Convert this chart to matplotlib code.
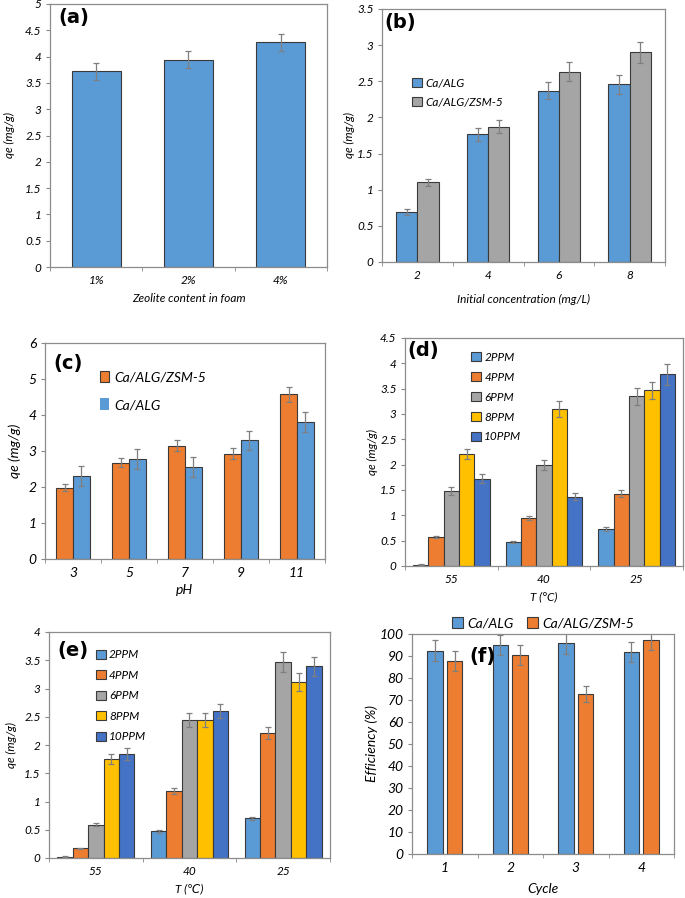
import numpy as np
import matplotlib
matplotlib.use('Agg')
import matplotlib.pyplot as plt
from matplotlib.ticker import MultipleLocator, FormatStrFormatter, FixedLocator
from matplotlib.patches import Patch

plt.rcParams['font.family'] = ['Lato', 'DejaVu Sans']

# ---- data ----
# (a)
zeolite = ['1%', '2%', '4%']
qe_a = [3.72, 3.94, 4.27]
err_a = [0.16, 0.16, 0.16]

# (b)
conc = ['2', '4', '6', '8']
qe_b_alg = [0.69, 1.77, 2.37, 2.46]
err_b_alg = [0.04, 0.09, 0.12, 0.13]
qe_b_zsm = [1.10, 1.87, 2.63, 2.90]
err_b_zsm = [0.05, 0.09, 0.13, 0.15]

# (c)
ph = ['3', '5', '7', '9', '11']
qe_c_zsm = [1.98, 2.68, 3.15, 2.93, 4.57]
err_c_zsm = [0.10, 0.13, 0.15, 0.15, 0.22]
qe_c_alg = [2.30, 2.78, 2.55, 3.30, 3.80]
err_c_alg = [0.27, 0.27, 0.27, 0.26, 0.27]

# (d) and (e)
temps = ['55', '40', '25']
ppm = ['2PPM', '4PPM', '6PPM', '8PPM', '10PPM']
qe_d = [[0.02, 0.47, 0.73],
        [0.57, 0.94, 1.43],
        [1.48, 2.00, 3.35],
        [2.21, 3.10, 3.47],
        [1.72, 1.37, 3.78]]
err_d = [[0.01, 0.02, 0.03],
         [0.02, 0.04, 0.07],
         [0.07, 0.10, 0.17],
         [0.10, 0.15, 0.17],
         [0.09, 0.07, 0.20]]
qe_e = [[0.02, 0.47, 0.70],
        [0.17, 1.19, 2.21],
        [0.59, 2.44, 3.47],
        [1.75, 2.44, 3.12],
        [1.84, 2.60, 3.39]]
err_e = [[0.01, 0.02, 0.03],
         [0.01, 0.05, 0.11],
         [0.03, 0.12, 0.17],
         [0.09, 0.12, 0.16],
         [0.10, 0.13, 0.17]]

# (f)
cycles = ['1', '2', '3', '4']
eff_alg = [92.5, 95.0, 95.8, 91.8]
err_f_alg = [4.6, 4.7, 4.8, 4.6]
eff_zsm = [87.8, 90.5, 72.8, 97.5]
err_f_zsm = [4.4, 4.5, 3.6, 4.9]

blue = '#5B9BD5'
orange = '#ED7D31'
gray = '#A5A5A5'
yellow = '#FFC000'
dblue = '#4472C4'
ppm_colors = [blue, orange, gray, yellow, dblue]
edge = '#3a3a3a'
ecol = '#7f7f7f'

W, H = 685, 898
fig = plt.figure(figsize=(W / 100, H / 100), dpi=100)


def add_ax(l, t, r, b):
    return fig.add_axes([l / W, 1 - b / H, (r - l) / W, (b - t) / H])


def style(ax, n, ymax, ystep, fs=8.5):
    ax.set_xlim(-0.5, n - 0.5)
    ax.set_ylim(0, ymax)
    ax.yaxis.set_major_locator(MultipleLocator(ystep))
    ax.yaxis.set_major_formatter(FormatStrFormatter('%g'))
    ax.set_xticks(range(n))
    ax.xaxis.set_minor_locator(FixedLocator(np.arange(-0.5, n, 1.0)))
    ax.tick_params(axis='x', which='major', length=0, labelsize=fs, pad=6)
    ax.tick_params(axis='x', which='minor', length=3, color='#888888')
    ax.tick_params(axis='y', length=3, color='#888888', labelsize=fs, pad=3)
    for lab in ax.get_xticklabels() + ax.get_yticklabels():
        lab.set_fontstyle('italic')
    for s in ax.spines.values():
        s.set_color('#8c8c8c')
        s.set_linewidth(0.9)


def ylab(ax, text, xpix, fs=8.5):
    # xpix: horizontal centre of the label, in figure pixels
    ax.set_ylabel(text, fontsize=fs, style='italic')
    bb = ax.get_position()
    x0 = bb.x0 * W
    w = bb.width * W
    ax.yaxis.set_label_coords((xpix + fs * 0.6 - x0) / w, 0.5)


ekw = dict(ecolor=ecol, capsize=2.5, elinewidth=0.9, capthick=0.9)

# (a)
ax = add_ax(50, 4, 327, 267)
x = np.arange(len(zeolite))
ax.bar(x, qe_a, 0.53, yerr=err_a, color=blue, edgecolor=edge, lw=0.8, error_kw=ekw)
style(ax, 3, 5, 0.5)
ax.set_xticklabels(zeolite)
for lab in ax.get_xticklabels():
    lab.set_fontstyle('italic')
ax.set_xlabel('Zeolite content in foam', fontsize=8.5, style='italic', labelpad=5)
ylab(ax, 'qe (mg/g)', 10)
ax.text(0.03, 0.985, '(a)', transform=ax.transAxes, fontsize=14, fontweight='bold',
        family='DejaVu Sans', va='top')

# (b)
ax = add_ax(382, 9, 665, 262)
x = np.arange(len(conc))
ax.bar(x - 0.15, qe_b_alg, 0.3, yerr=err_b_alg, color=blue, edgecolor=edge, lw=0.8,
       error_kw=ekw, label='Ca/ALG')
ax.bar(x + 0.15, qe_b_zsm, 0.3, yerr=err_b_zsm, color=gray, edgecolor=edge, lw=0.8,
       error_kw=ekw, label='Ca/ALG/ZSM-5')
style(ax, 4, 3.5, 0.5)
ax.set_xticklabels(conc)
for lab in ax.get_xticklabels():
    lab.set_fontstyle('italic')
ax.set_xlabel('Initial concentration (mg/L)', fontsize=8.5, style='italic', labelpad=9)
ylab(ax, 'qe (mg/g)', 350)
ax.legend(loc='upper left', bbox_to_anchor=(0.07, 0.77), frameon=False,
          prop={'style': 'italic', 'size': 8.5}, handlelength=0.8, handleheight=0.8,
          handletextpad=0.3, labelspacing=0.7)
ax.text(0.01, 0.985, '(b)', transform=ax.transAxes, fontsize=14, fontweight='bold',
        family='DejaVu Sans', va='top')

# (c)
ax = add_ax(45, 343, 325, 559)
x = np.arange(len(ph))
ax.bar(x - 0.15, qe_c_zsm, 0.3, yerr=err_c_zsm, color=orange, edgecolor=edge, lw=0.8,
       error_kw=ekw)
ax.bar(x + 0.15, qe_c_alg, 0.3, yerr=err_c_alg, color=blue, edgecolor=edge, lw=0.8,
       error_kw=ekw)
style(ax, 5, 6, 1, fs=10)
ax.set_xticklabels(ph)
for lab in ax.get_xticklabels():
    lab.set_fontstyle('italic')
ax.set_xlabel('pH', fontsize=10, style='italic', labelpad=3)
ylab(ax, 'qe (mg/g)', 15, fs=10)
hc = [Patch(facecolor=orange, edgecolor=edge, lw=0.8, label='Ca/ALG/ZSM-5'),
      Patch(facecolor=blue, edgecolor='none', label='Ca/ALG')]
ax.legend(handles=hc, loc='upper left', bbox_to_anchor=(0.15, 0.93), frameon=False,
          prop={'style': 'italic', 'size': 10}, handlelength=0.7, handleheight=0.9,
          handletextpad=0.4, labelspacing=1.1)
ax.text(0.03, 0.95, '(c)', transform=ax.transAxes, fontsize=14, fontweight='bold',
        family='DejaVu Sans', va='top')


def ppm_panel(ax, vals, errs):
    x = np.arange(len(temps))
    w = 0.165
    for k in range(len(ppm)):
        ax.bar(x + (k - 2) * w, vals[k], w, yerr=errs[k], color=ppm_colors[k],
               edgecolor=edge, lw=0.8, error_kw=ekw, label=ppm[k])
    ax.set_xticklabels(temps)
    for lab in ax.get_xticklabels():
        lab.set_fontstyle('italic')


# (d)
ax = add_ax(405, 338, 683, 566)
style(ax, 3, 4.5, 0.5)
ppm_panel(ax, qe_d, err_d)
ax.set_xlabel('T (°C)', fontsize=8.5, style='italic', labelpad=4)
ylab(ax, 'qe (mg/g)', 373)
ax.legend(loc='upper left', bbox_to_anchor=(0.2, 0.985), frameon=False,
          prop={'style': 'italic', 'size': 8.5}, handlelength=0.8, handleheight=0.8,
          handletextpad=0.3, labelspacing=0.75)
ax.text(0.01, 0.985, '(d)', transform=ax.transAxes, fontsize=14, fontweight='bold',
        family='DejaVu Sans', va='top')

# (e)
ax = add_ax(49, 632, 330, 858)
style(ax, 3, 4, 0.5)
ppm_panel(ax, qe_e, err_e)
ax.set_xlabel('T (℃)', fontsize=8.5, style='italic', labelpad=4)
ylab(ax, 'qe (mg/g)', 12)
ax.legend(loc='upper left', bbox_to_anchor=(0.13, 0.97), frameon=False,
          prop={'style': 'italic', 'size': 8.5}, handlelength=0.8, handleheight=0.8,
          handletextpad=0.3, labelspacing=0.8)
ax.text(0.03, 0.96, '(e)', transform=ax.transAxes, fontsize=14, fontweight='bold',
        family='DejaVu Sans', va='top')

# (f)
ax = add_ax(412, 634, 674, 854)
x = np.arange(len(cycles))
ax.bar(x - 0.15, eff_alg, 0.235, yerr=err_f_alg, color=blue, edgecolor=edge, lw=0.8,
       error_kw=ekw, label='Ca/ALG')
ax.bar(x + 0.15, eff_zsm, 0.235, yerr=err_f_zsm, color=orange, edgecolor=edge, lw=0.8,
       error_kw=ekw, label='Ca/ALG/ZSM-5')
style(ax, 4, 100, 10, fs=10)
ax.set_xticklabels(cycles)
for lab in ax.get_xticklabels():
    lab.set_fontstyle('italic')
ax.set_xlabel('Cycle', fontsize=10, style='italic', labelpad=6)
ylab(ax, 'Efficiency (%)', 372, fs=10)
ax.legend(loc='lower center', bbox_to_anchor=(0.5, 0.99), ncol=2, frameon=False,
          prop={'style': 'italic', 'size': 10}, handlelength=0.8, handleheight=0.8,
          handletextpad=0.3, columnspacing=1.0, borderaxespad=0.1)
ax.text(0.22, 0.94, '(f)', transform=ax.transAxes, fontsize=14, fontweight='bold',
        family='DejaVu Sans', va='top')

fig.savefig('out.png', dpi=100)
